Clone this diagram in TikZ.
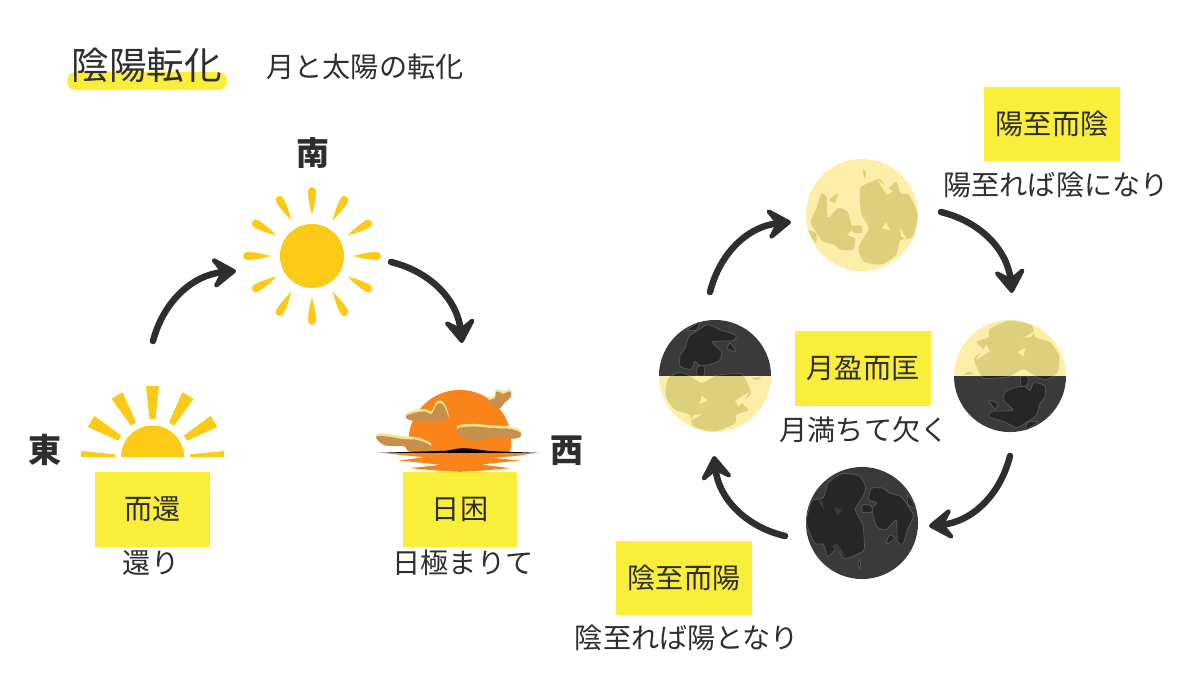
\documentclass[tikz,border=0pt]{standalone}
\usepackage{fontspec}
\setmainfont{Noto Sans CJK JP}
\usetikzlibrary{arrows.meta}
\definecolor{inkDark}{HTML}{2E2E2E}
\definecolor{boxYellow}{HTML}{F9EE3A}
\definecolor{sunYellow}{HTML}{FCCB17}
\definecolor{sunOrange}{HTML}{F9851A}
\definecolor{cloudTan}{HTML}{C98F4E}
\definecolor{cloudPale}{HTML}{EFE68F}
\definecolor{moonPale}{HTML}{FDEEA9}
\definecolor{moonSpot}{HTML}{DDD07C}
\definecolor{moonDark}{HTML}{3A3A3A}
\definecolor{moonDarkSpot}{HTML}{262626}
\tikzset{
  boxDecorate/.style={fill=boxYellow,inner sep=0pt,text=inkDark,font=\fontsize{8}{9}\selectfont},
  textDecorate/.style={inner sep=0pt,text=inkDark,font=\fontsize{8}{9}\selectfont},
  dirDecorate/.style={inner sep=0pt,text=inkDark,font=\fontsize{9.4}{11}\selectfont\bfseries},
  arrowDecorate/.style={draw=inkDark,line width=0.065cm,line cap=round,
    -{Stealth[round,length=0.3cm,width=0.4cm,inset=0.13cm]}},
  sunDecorate/.style={shape=circle,fill=sunYellow,inner sep=0pt,minimum size=0.64cm}
}
% spots of one moon, radius 1, first colour for the spots, second for the holes
\newcommand{\moonSpots}[2]{%
  \filldraw[#1] plot[smooth cycle,tension=0.4] coordinates {
    (-0.02,0.5) (0.31,0.64) (0.46,0.47) (0.61,0.6) (0.69,0.38) (0.84,0.36) (0.99,0)
    (0.9,-0.39) (0.69,-0.45) (0.6,-0.72) (0.35,-0.88) (0.05,-0.84) (-0.06,-0.66) (-0.03,-0.5)
    (0.12,-0.24) (-0.01,0.02) (-0.04,0.32)};
  \filldraw[#1] plot[smooth cycle,tension=0.4] coordinates {
    (-0.73,0.37) (-0.63,0.32) (-0.61,-0.05) (-0.43,0.12) (-0.26,0.06) (-0.18,-0.24)
    (-0.26,-0.36) (-0.12,-0.42) (-0.17,-0.62) (-0.38,-0.62) (-0.5,-0.53) (-0.7,-0.47)
    (-0.84,-0.27) (-0.92,-0.12) (-0.82,0.1)};
  \filldraw[#1] plot[smooth cycle,tension=0.4] coordinates {(-0.59,0.27) (-0.43,0.38) (-0.49,0.22)};
  \filldraw[#1] plot[smooth cycle,tension=0.4] coordinates {(-0.18,-0.2) (-0.01,-0.19) (-0.01,-0.32) (-0.16,-0.31)};
  \filldraw[#1] plot[smooth cycle,tension=0.4] coordinates {(-0.96,-0.28) (-0.82,-0.33) (-0.82,-0.5)};
  \filldraw[#1] plot[smooth cycle,tension=0.4] coordinates {(0.02,0.82) (0.07,0.75) (0.04,0.65)};
  \fill[#2] (0.43,-0.13) -- (0.5,-0.27) -- (0.35,-0.24) -- cycle;
  \fill[#2] (0.68,-0.23) -- (0.8,-0.44) -- (0.7,-0.38) -- cycle;
  \fill[#2] (0.28,0.62) -- (0.55,0.42) -- (0.44,0.36) -- cycle;
  \fill[#2] (0.72,-0.6) -- (0.5,-0.84) -- (0.6,-0.8) -- cycle;
}
% one moon: centre, turn, disc colour, spot colour, hole colour
\newcommand{\moonDisc}[6]{%
  \begin{scope}[shift={(#1,#2)},rotate=#3,x=0.56cm,y=0.56cm]
    \fill[#4] (0,0) circle (1);
    \moonSpots{#5}{#6}
  \end{scope}
}
\newcommand{\cloudShape}[1]{%
  \filldraw[cloudPale,line width=0.2pt] plot[smooth cycle,tension=0.6] coordinates {#1};
  \fill[cloudTan,yshift=-0.022cm] plot[smooth cycle,tension=0.6] coordinates {#1};
}

\begin{document}
\begin{tikzpicture}[x=0.01cm,y=-0.01cm]
\useasboundingbox (0,0) rectangle (1200,675);
%% title
\fill[boxYellow,rounded corners=0.085cm] (67,72) rectangle (227,90);
\node (title) at (147,65) [inner sep=0pt,text=inkDark,font=\fontsize{10.7}{12}\selectfont] {陰陽転化};
\node (subtitle) at (365,67) [textDecorate] {月と太陽の転化};
%% suns
\node (sunNoon) at (312,256) [sunDecorate] {};
\foreach \a in {0,30,...,330}
{
  \begin{scope}[shift={(312,256)},rotate=\a]
    \fill[sunYellow] (41,0) .. controls (50,-2.5) and (58,-4) .. (65,-4)
      .. controls (70,-4) and (70,4) .. (65,4) .. controls (58,4) and (50,2.5) .. (41,0) -- cycle;
  \end{scope}
}
\fill[sunYellow] (121,457) arc[start angle=180,end angle=0,radius=0.315cm] -- cycle;
\foreach \a in {-60,-30,0,30,60}
{
  \begin{scope}[shift={(152.5,457)},rotate=\a]
    \fill[sunYellow] (-3,-38) -- (3,-38) -- (6.5,-71) -- (-6.5,-71) -- cycle;
  \end{scope}
}
\fill[sunYellow] (81,451) -- (115,454.3) -- (115,457) -- (81,457) -- cycle;
\fill[sunYellow] (224,451) -- (190,454.3) -- (190,457) -- (224,457) -- cycle;
%% sunset, in steps of a third of a unit
\begin{scope}[shift={(360,370)},x=0.00333cm,y=-0.00333cm]
  \begin{scope}
    \clip (100,40) rectangle (500,250);
    \fill[sunOrange] (300,214) circle[radius=0.513cm];
  \end{scope}
  \fill[sunOrange] (75,250) -- (525,250) -- (470,258) -- (400,264) -- (480,272) -- (400,280)
    -- (365,284) -- (450,295) -- (370,302) -- (300,306) -- (230,302) -- (150,295) -- (240,285)
    -- (200,280) -- (115,272) -- (195,262) -- (130,256) -- cycle;
  \cloudShape{(138,132) (165,122) (195,118) (215,125) (232,95) (250,98) (264,130) (258,143) (200,147) (150,144)}
  \cloudShape{(292,170) (340,163) (400,168) (450,170) (484,183) (470,199) (400,197) (340,207) (310,197)}
  \cloudShape{(48,195) (80,193) (130,201) (170,203) (212,220) (205,235) (170,232) (145,238) (130,222) (75,220)}
  \cloudShape{(385,85) (405,78) (410,58) (430,65) (450,58) (454,72) (432,95) (420,108) (395,100)}
  \fill[black] (50,249) -- (180,245) -- (240,243) .. controls (270,244) and (280,236) .. (310,235)
    .. controls (340,235) and (370,243) .. (400,244) -- (540,249) -- cycle;
\end{scope}
%% moons
\moonDisc{862}{215}{0}{moonPale}{fill=moonSpot,draw=none}{moonPale}
\moonDisc{862}{523}{180}{moonDark}{fill=moonDarkSpot,draw=gray!70!black,line width=0.2pt}{moonDark}
\begin{scope}
  \clip (655,316) rectangle (777,376);
  \moonDisc{715}{376}{-90}{moonDark}{fill=moonDarkSpot,draw=gray!70!black,line width=0.2pt}{moonDark}
\end{scope}
\begin{scope}
  \clip (655,376) rectangle (777,436);
  \moonDisc{715}{376}{-90}{moonPale}{fill=moonSpot,draw=none}{moonPale}
\end{scope}
\begin{scope}
  \clip (950,316) rectangle (1070,376);
  \moonDisc{1010}{376}{90}{moonPale}{fill=moonSpot,draw=none}{moonPale}
\end{scope}
\begin{scope}
  \clip (950,376) rectangle (1070,436);
  \moonDisc{1010}{376}{90}{moonDark}{fill=moonDarkSpot,draw=gray!70!black,line width=0.2pt}{moonDark}
\end{scope}
%% boxes
\foreach \nodename/\x/\y/\w/\h/\txt in {
  boxReturn/152.5/509.5/1.15/0.75/而還,
  boxKon/460/509.5/1.14/0.75/日困,
  boxYang/1052/124/1.36/0.74/陽至而陰,
  boxWane/863/368.5/1.36/0.75/月盈而匡,
  boxYin/684/578/1.36/0.74/陰至而陽}
{
  \node (\nodename) at (\x,\y) [boxDecorate,minimum width=\w cm,minimum height=\h cm] {\txt};
}
%% labels
\foreach \nodename/\x/\y/\txt in {
  labReturn/151/563/還り,
  labKon/463/563/日極まりて,
  labYang/1056/185/陽至れば陰になり,
  labWane/864/430/月満ちて欠く,
  labYin/687/638/陰至れば陽となり}
{
  \node (\nodename) at (\x,\y) [textDecorate] {\txt};
}
\foreach \nodename/\x/\y/\txt in {
  dirEast/45/450/東, dirSouth/313/153/南, dirWest/567/451/西}
{
  \node (\nodename) at (\x,\y) [dirDecorate] {\txt};
}
%% arrows
\foreach \nodename/\x/\y in {
  a1/153/341, a2/236/271, b1/391/262, b2/462/343,
  c1/710/292, c2/791/222, d1/941/212, d2/1012/293,
  e1/1010/456, e2/929/526, f1/785/536, f2/714/456}
{
  \coordinate (\nodename) at (\x,\y);
}
\path
\foreach \startnode/\endnode in {a1/a2, b1/b2, c1/c2, d1/d2, e1/e2, f1/f2}
{
  (\startnode) edge[arrowDecorate,bend left=35] (\endnode)
};
\end{tikzpicture}
\end{document}
